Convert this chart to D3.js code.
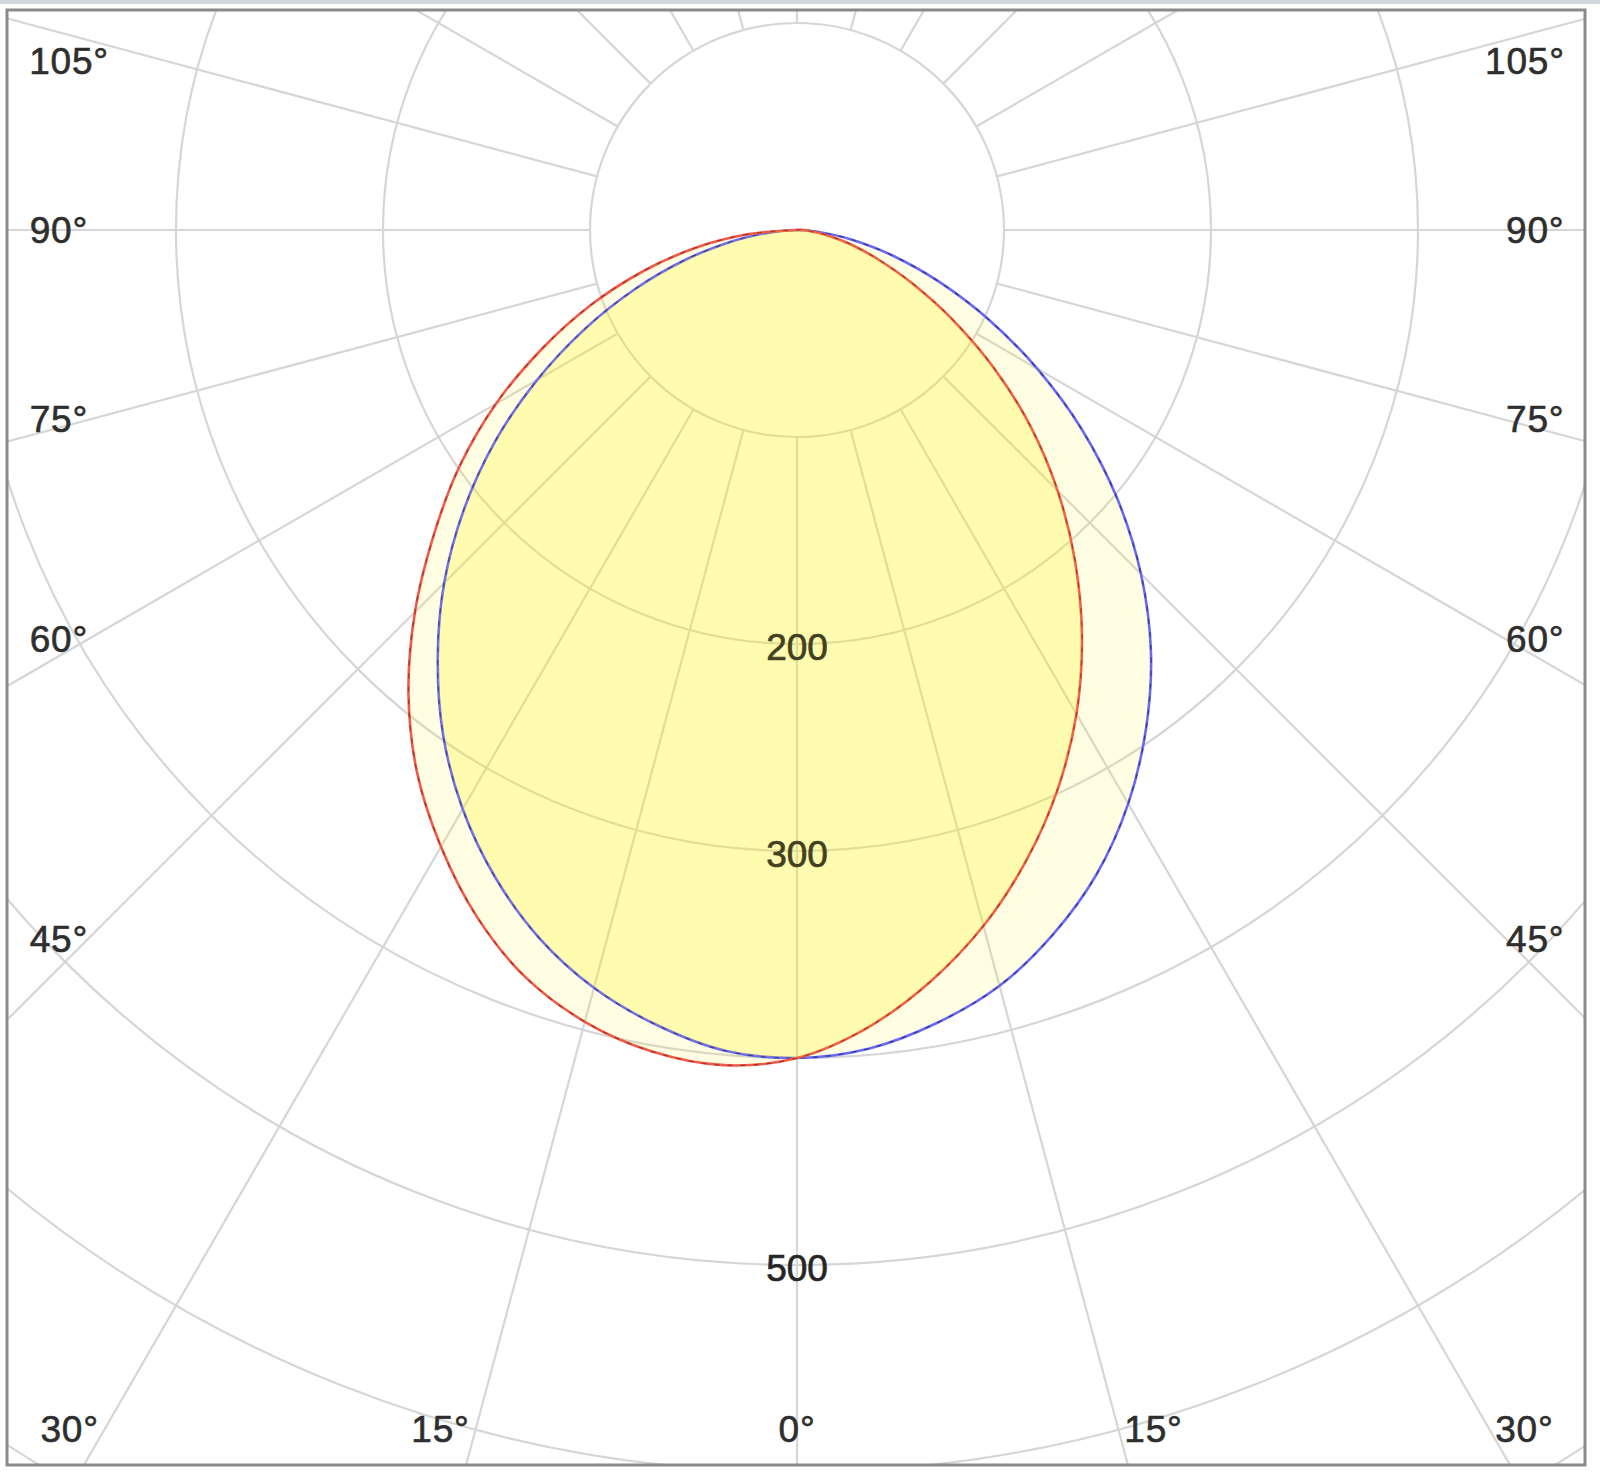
<!DOCTYPE html>
<html>
<head>
<meta charset="utf-8">
<script src="https://cdn.jsdelivr.net/npm/d3@7"></script>
<style>
  html, body { margin: 0; padding: 0; background: #ffffff; }
  svg { display: block; }
</style>
</head>
<body>
<script>
// ---------- data ----------
// polar angles gamma in degrees, 0 = straight down
const angles = [0, 5, 10, 15, 20, 25, 30, 35, 40, 45, 50, 55, 60, 65, 70, 75, 80, 85, 90];
// red plane (C0 - C180), luminous intensity in cd
const redLeft  = [400, 405, 403, 396, 384, 366, 344, 320, 292, 261, 229, 199, 168, 136, 106, 77, 50, 24, 0];
const redRight = [400, 387, 369, 348, 324, 298, 270, 240, 209, 178, 147, 116, 87, 62, 42, 27, 15, 6, 0];
// blue plane (C90 - C270)
const blueLeft  = [400, 398, 390, 379, 364, 345, 323, 298, 270, 241, 210, 178, 145, 113, 83, 56, 32, 13, 0];
const blueRight = [400, 397, 389, 378, 362, 343, 320, 294, 266, 235, 202, 168, 134, 102, 73, 48, 27, 10, 0];
// grid
const gridCircles = [100, 200, 300, 400, 500, 600, 700];
const radiusLabels = [200, 300, 500];
const angleLabels = [0, 15, 30, 45, 60, 75, 90, 105];
const spokeStep = 15;

// ---------- layout ----------
const W = 1600, H = 1481;
const cx = 797, cy = 230;
const frame = { x: 7, y: 10, w: 1578, h: 1455 };
const r = d3.scaleLinear().domain([0, 700]).range([0, 700 * 2.07]);
const labelHalfWidth = 709, labelBottom = 1199, labelMinY = 61, bottomGap = 6;
const font = "'Liberation Sans', Arial, Helvetica, sans-serif";

const svg = d3.select("body").append("svg")
  .attr("width", W).attr("height", H)
  .attr("viewBox", `0 0 ${W} ${H}`);

// top light strip
svg.append("rect").attr("x", 0).attr("y", 0).attr("width", W).attr("height", 4)
  .attr("fill", "#d3d8dc");

const defs = svg.append("defs");
defs.append("clipPath").attr("id", "frameClip")
  .append("rect").attr("x", frame.x).attr("y", frame.y)
  .attr("width", frame.w).attr("height", frame.h);

const plot = svg.append("g").attr("clip-path", "url(#frameClip)");
const g = plot.append("g").attr("transform", `translate(${cx},${cy})`);

// ---------- grid ----------
const gridColor = "#d6d6d6";
g.selectAll("circle.grid").data(gridCircles).join("circle")
  .attr("class", "grid")
  .attr("r", d => r(d))
  .attr("fill", "none").attr("stroke", gridColor).attr("stroke-width", 2.2);

const spokes = d3.range(0, 360, spokeStep);
g.selectAll("line.spoke").data(spokes).join("line")
  .attr("class", "spoke")
  .attr("x1", d => r(100) * Math.sin(d * Math.PI / 180))
  .attr("y1", d => r(100) * Math.cos(d * Math.PI / 180))
  .attr("x2", d => r(800) * Math.sin(d * Math.PI / 180))
  .attr("y2", d => r(800) * Math.cos(d * Math.PI / 180))
  .attr("stroke", gridColor).attr("stroke-width", 2.2);

// ---------- curves ----------
function buildPoints(left, right) {
  const pts = [];
  for (let i = angles.length - 1; i >= 1; i--) pts.push({ gamma: -angles[i], v: left[i] });
  pts.push({ gamma: 0, v: (left[0] + right[0]) / 2 });
  for (let i = 1; i < angles.length - 1; i++) pts.push({ gamma: angles[i], v: right[i] });
  return pts; // +90 omitted: same point as -90 (centre), curve is closed
}
const radial = d3.lineRadial()
  .angle(d => Math.PI - d.gamma * Math.PI / 180)
  .radius(d => r(d.v))
  .curve(d3.curveCardinalClosed.tension(0));

const redPts = buildPoints(redLeft, redRight);
const bluePts = buildPoints(blueLeft, blueRight);

defs.append("clipPath").attr("id", "redClip")
  .append("path").attr("d", radial(redPts))
  .attr("transform", `translate(${cx},${cy})`);

const fillColor = "#fff200";
const fillOp = 0.11;
g.append("path").attr("d", radial(redPts)).attr("fill", fillColor).attr("fill-opacity", fillOp);
g.append("path").attr("d", radial(bluePts)).attr("fill", fillColor).attr("fill-opacity", fillOp);
plot.append("g").attr("clip-path", "url(#redClip)")
  .append("path").attr("d", radial(bluePts))
  .attr("transform", `translate(${cx},${cy})`)
  .attr("fill", fillColor).attr("fill-opacity", 0.13);

function strokeCurve(pts, base, dark) {
  g.append("path").attr("d", radial(pts)).attr("fill", "none")
    .attr("stroke", base).attr("stroke-width", 2.6);
  g.append("path").attr("d", radial(pts)).attr("fill", "none")
    .attr("stroke", dark).attr("stroke-width", 1.3)
    .attr("stroke-dasharray", "5 8").attr("stroke-opacity", 0.7);
}
strokeCurve(bluePts, "#6a6af0", "#23237a");
strokeCurve(redPts, "#f05a4a", "#8e2418");

// ---------- radius labels ----------
g.selectAll("text.rlab").data(radiusLabels).join("text")
  .attr("class", "rlab")
  .attr("x", 0).attr("y", d => r(d) + 3)
  .attr("text-anchor", "middle").attr("dominant-baseline", "central")
  .attr("font-family", font).attr("font-size", 37)
  .attr("fill", "#262626").attr("stroke", "#262626").attr("stroke-width", 0.7)
  .text(d => d);

// ---------- angle labels ----------
const angleLabelData = [];
angleLabels.forEach(a => {
  if (a === 0) angleLabelData.push({ a, side: 0 });
  else { angleLabelData.push({ a, side: -1 }); angleLabelData.push({ a, side: 1 }); }
});
function labelPos(d) {
  const t = d.a * Math.PI / 180;
  const sx = Math.sin(t), sy = Math.cos(t);
  let kSide = sx > 1e-9 ? labelHalfWidth / sx : Infinity;
  let kBottom = sy > 1e-9 ? labelBottom / sy : Infinity;
  const k = Math.min(kSide, kBottom);
  const onBottom = kBottom <= kSide;
  let x = cx + d.side * sx * k;
  let y = cy + sy * k;
  if (onBottom && d.side !== 0) x += d.side * bottomGap;
  if (y < labelMinY) {           // pushed down from the top edge, slid inward as much
    x -= d.side * (labelMinY - y);
    y = labelMinY;
  }
  return [x, y];
}
svg.selectAll("text.alab").data(angleLabelData).join("text")
  .attr("class", "alab")
  .attr("x", d => labelPos(d)[0]).attr("y", d => labelPos(d)[1])
  .attr("text-anchor", d => d.side < 0 ? "end" : (d.side > 0 ? "start" : "middle"))
  .attr("dominant-baseline", "central")
  .attr("font-family", font).attr("font-size", 37).attr("letter-spacing", 0.8)
  .attr("fill", "#2e2e2e").attr("stroke", "#2e2e2e").attr("stroke-width", 0.6)
  .text(d => d.a + "°");

// ---------- frame ----------
svg.append("rect").attr("x", frame.x).attr("y", frame.y)
  .attr("width", frame.w).attr("height", frame.h)
  .attr("fill", "none").attr("stroke", "#8a8a8a").attr("stroke-width", 3);
</script>
</body>
</html>
